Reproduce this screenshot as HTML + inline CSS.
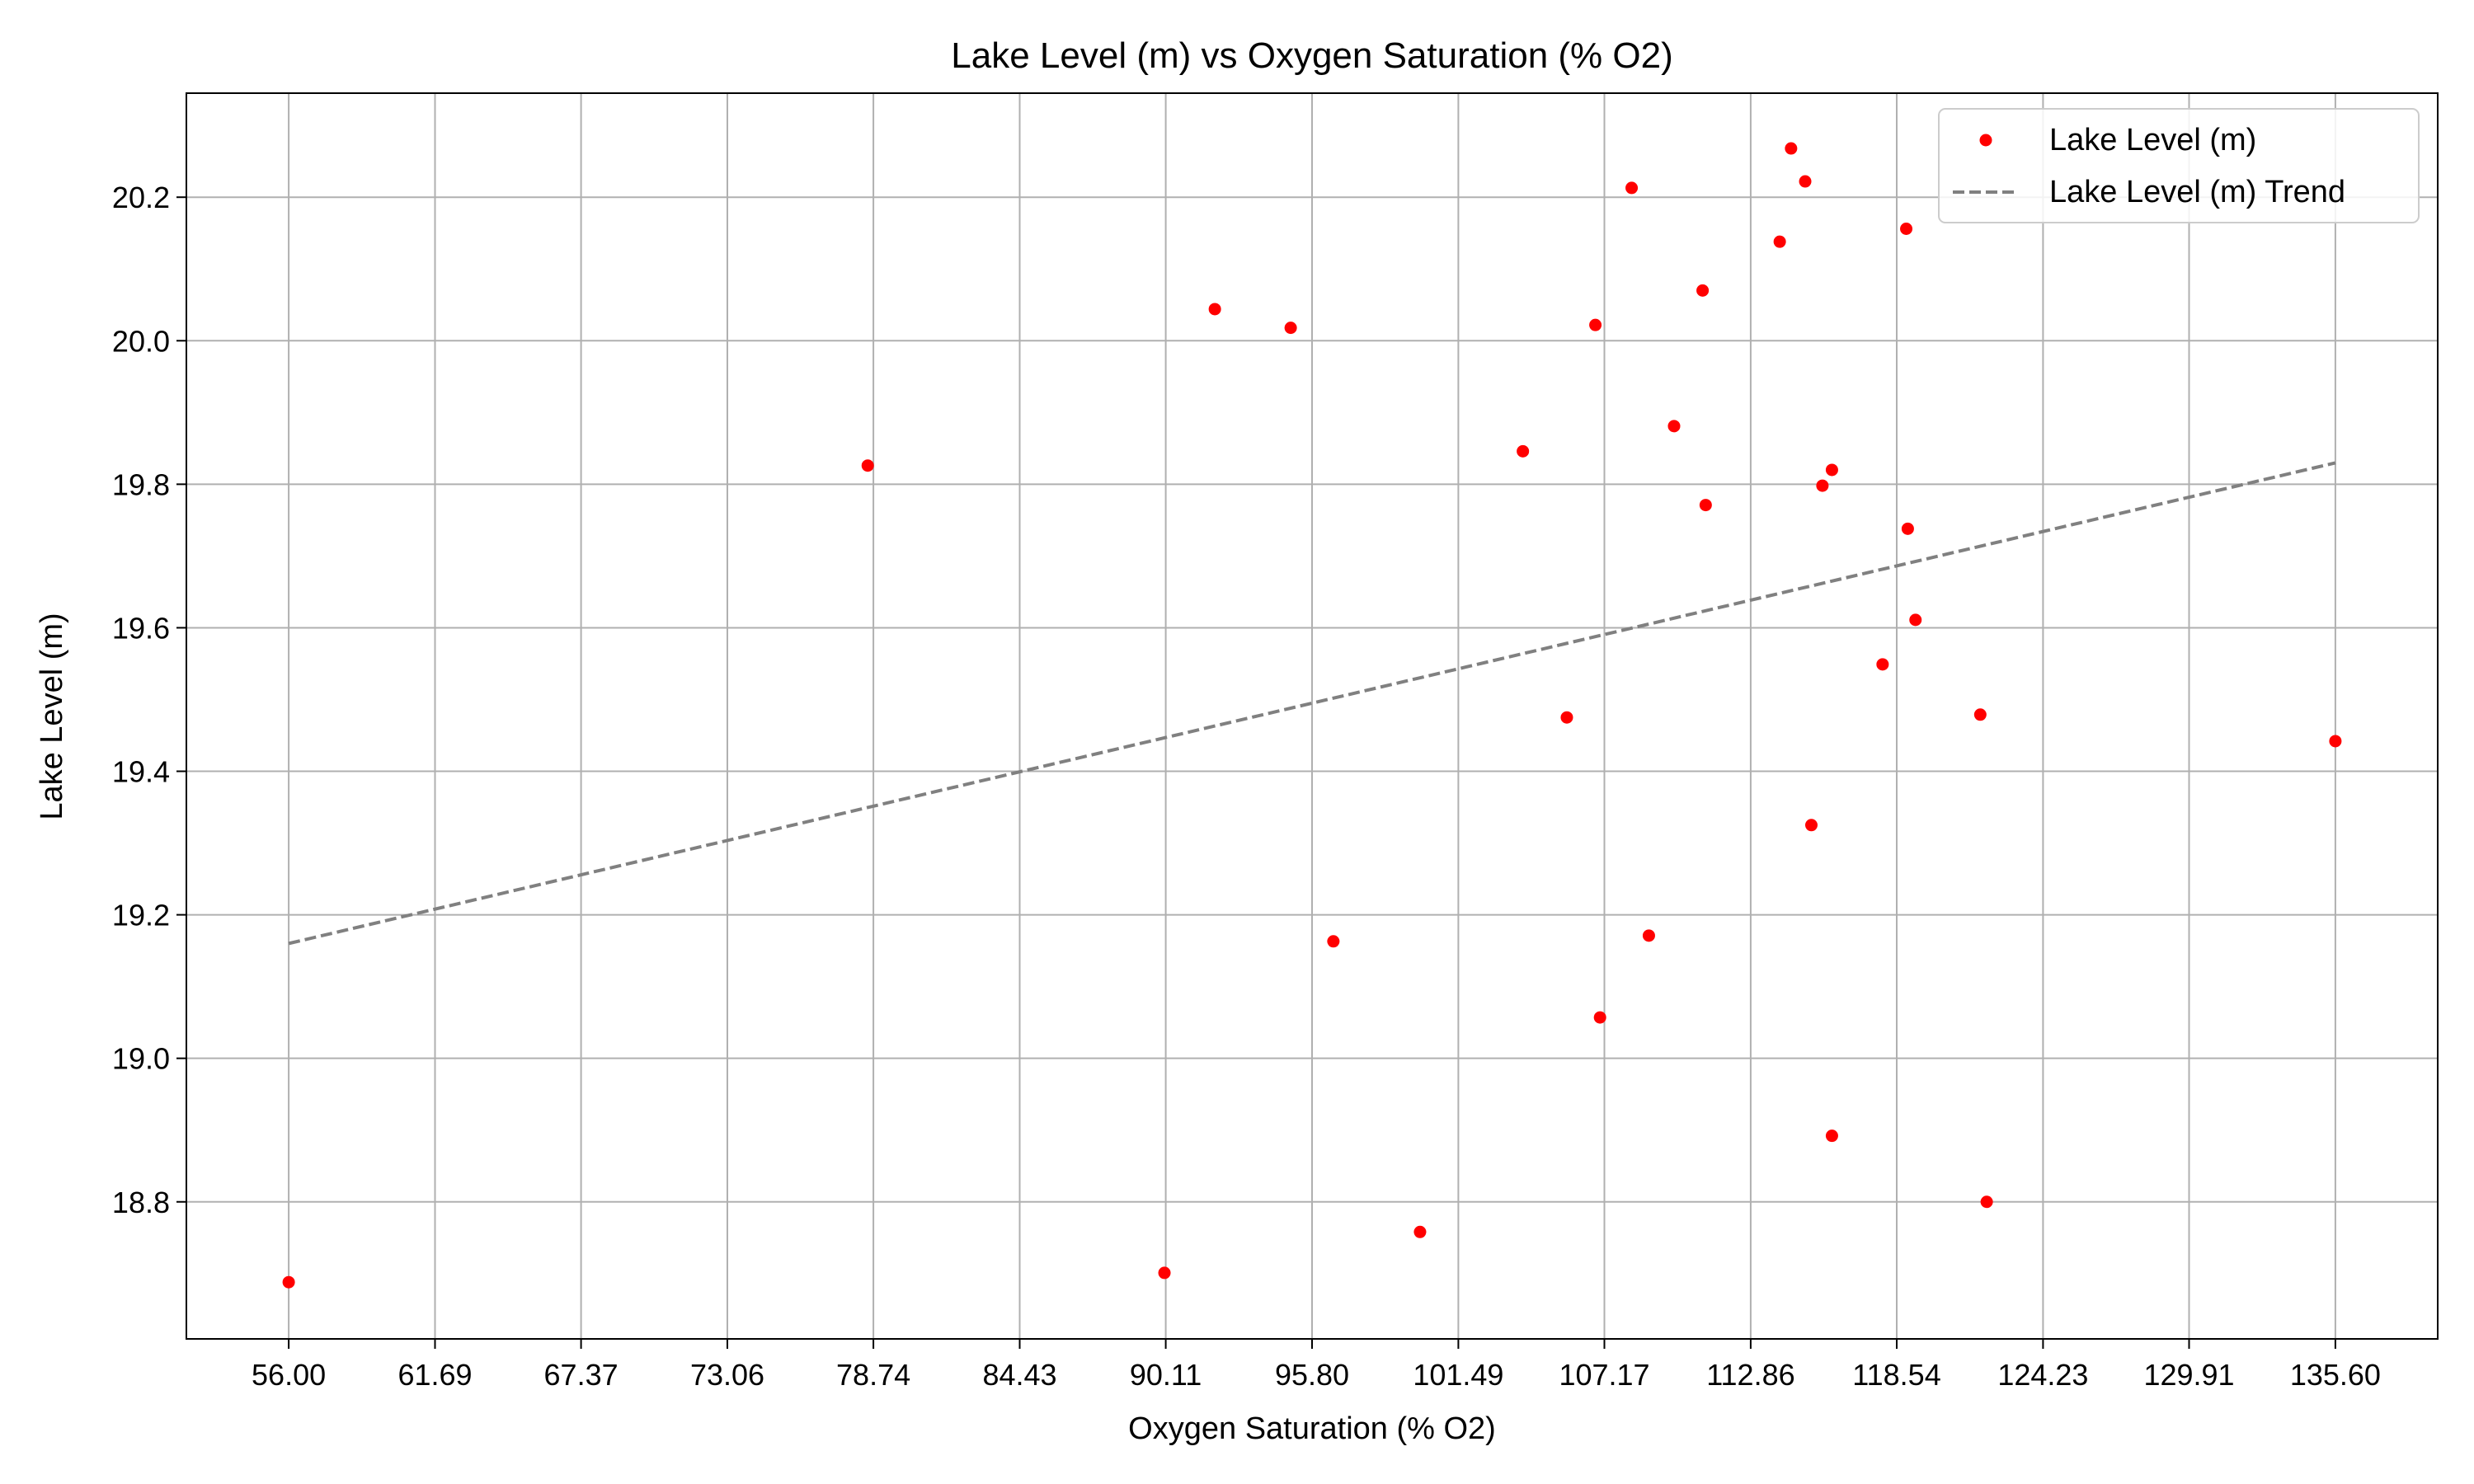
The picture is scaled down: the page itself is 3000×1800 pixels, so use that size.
<!DOCTYPE html>
<html><head><meta charset="utf-8"><style>
html,body{margin:0;padding:0;background:#fff}
svg{display:block;font-family:"Liberation Sans","DejaVu Sans",sans-serif}
</style></head><body>
<svg id="chart" width="3000" height="1800" viewBox="0 0 3000 1800" xmlns="http://www.w3.org/2000/svg">
<rect width="3000" height="1800" fill="#fff"/>
<text x="1591" y="82" font-size="44" text-anchor="middle">Lake Level (m) vs Oxygen Saturation (% O2)</text>
<g id="grid"></g>
<g id="trend"></g>
<g id="points"></g>
<rect x="226" y="113" width="2730" height="1511" fill="none" stroke="#000" stroke-width="2"/>
<g id="xticks"></g>
<g id="yticks"></g>
<text x="1591" y="1745" font-size="38" text-anchor="middle">Oxygen Saturation (% O2)</text>
<text x="75" y="869" font-size="38" text-anchor="middle" transform="rotate(-90 75 869)">Lake Level (m)</text>
<g>
<rect x="2351" y="132" width="582" height="138" rx="8" fill="#fff" fill-opacity="0.85" stroke="#ccc" stroke-width="2"/>
<circle cx="2408" cy="170" r="7.5" fill="red"/>
<text x="2485" y="182" font-size="38">Lake Level (m)</text>
<line x1="2368" y1="233" x2="2448" y2="233" stroke="#808080" stroke-width="4" stroke-dasharray="14,6"/>
<text x="2485" y="245" font-size="38">Lake Level (m) Trend</text>
</g>
</svg>
<script>
const oxygen = [56.0,78.52,90.06,92.02,94.97,96.63,100.0,104.0,105.71,106.82,107.0,108.23,108.9,109.88,110.99,111.11,113.99,114.43,114.98,115.22,115.65,116.02,116.02,117.99,118.91,118.97,119.27,121.79,122.04,135.6];
const level = [18.688,19.826,18.701,20.044,20.018,19.163,18.758,19.846,19.475,20.022,19.057,20.213,19.171,19.881,20.070,19.771,20.138,20.268,20.222,19.325,19.798,19.820,18.892,19.549,20.156,19.738,19.611,19.479,18.8,19.442];
const xTickLabels = ["56.00","61.69","67.37","73.06","78.74","84.43","90.11","95.80","101.49","107.17","112.86","118.54","124.23","129.91","135.60"];
const yTickLabels = ["18.8","19.0","19.2","19.4","19.6","19.8","20.0","20.2"];

const NS="http://www.w3.org/2000/svg";
const L=226,R=2956,T=113,B=1624;
const xMin=52.02,xMax=139.58,yMin=18.609,yMax=20.345;
const sx=v=>L+(v-xMin)/(xMax-xMin)*(R-L);
const sy=v=>B-(v-yMin)/(yMax-yMin)*(B-T);
function mk(tag,attrs,parent){const e=document.createElementNS(NS,tag);for(const k in attrs)e.setAttribute(k,attrs[k]);parent.appendChild(e);return e;}
const grid=document.getElementById('grid'),xt=document.getElementById('xticks'),yt=document.getElementById('yticks');
xTickLabels.forEach(s=>{const v=parseFloat(s),x=sx(v);
 const g=mk('line',{x1:x,x2:x,y1:T,y2:B,stroke:'#b0b0b0','stroke-width':2},grid);
 
 
 mk('line',{x1:x,x2:x,y1:B,y2:B+12,stroke:'#000','stroke-width':2},xt);
 const t=mk('text',{x:x,y:B+56,'font-size':36,'text-anchor':'middle'},xt);t.textContent=s;
 
 
});
yTickLabels.forEach(s=>{const v=parseFloat(s),y=sy(v);
 const g=mk('line',{x1:L,x2:R,y1:y,y2:y,stroke:'#b0b0b0','stroke-width':2},grid);
 
 
 mk('line',{x1:L-12,x2:L,y1:y,y2:y,stroke:'#000','stroke-width':2},yt);
 const t=mk('text',{x:L-20,y:y+13,'font-size':36,'text-anchor':'end'},yt);t.textContent=s;
 
 
});
const n=oxygen.length;let mx=0,my=0;for(let i=0;i<n;i++){mx+=oxygen[i];my+=level[i];}mx/=n;my/=n;
let sxy=0,sxx=0;for(let i=0;i<n;i++){sxy+=(oxygen[i]-mx)*(level[i]-my);sxx+=(oxygen[i]-mx)**2;}
const slope=sxy/sxx,icpt=my-slope*mx;
const x0=Math.min(...oxygen),x1=Math.max(...oxygen);
const tl=mk('line',{x1:sx(x0),y1:sy(icpt+slope*x0),x2:sx(x1),y2:sy(icpt+slope*x1),stroke:'#808080','stroke-width':4,'stroke-dasharray':'14,6'},document.getElementById('trend'));


const pg=document.getElementById('points');
for(let i=0;i<n;i++){const c=mk('circle',{cx:sx(oxygen[i]),cy:sy(level[i]),r:7.5,fill:'red'},pg);
 
 }
</script>
</body></html>
